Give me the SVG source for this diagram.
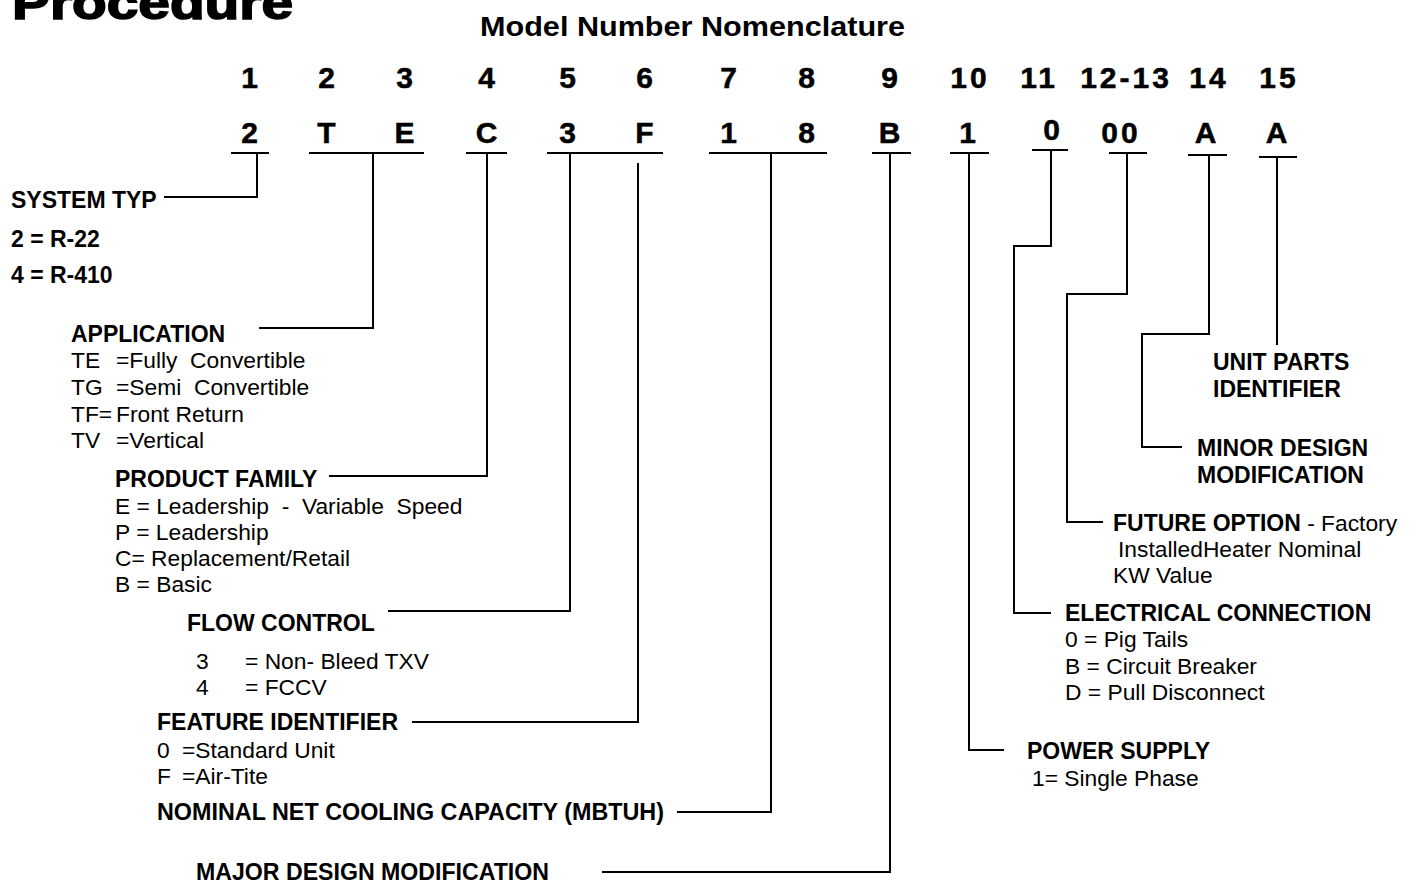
<svg xmlns="http://www.w3.org/2000/svg" width="1411" height="882" viewBox="0 0 1411 882">
<style>
text{font-family:"Liberation Sans",Arial,sans-serif;fill:#000}
.b{font-weight:bold;font-size:23px}
.r{font-size:22.8px}
.d{font-weight:bold;font-size:30px;text-anchor:middle;letter-spacing:3px;stroke:#000;stroke-width:0.5}
.ln{stroke:#000;stroke-width:2;fill:none}
</style>
<rect width="1411" height="882" fill="#fff"/>
<g id="title">
<text x="12" y="19" font-size="47" font-weight="bold" stroke="#000" stroke-width="1.6" textLength="281" lengthAdjust="spacingAndGlyphs">Procedure</text>
<text x="480" y="36" font-size="28" font-weight="bold" textLength="425" lengthAdjust="spacingAndGlyphs">Model Number Nomenclature</text>
</g>
<g id="positions">
<text class="d" x="251" y="88">1</text>
<text class="d" x="328" y="88">2</text>
<text class="d" x="406" y="88">3</text>
<text class="d" x="488" y="88">4</text>
<text class="d" x="569" y="88">5</text>
<text class="d" x="646" y="88">6</text>
<text class="d" x="730" y="88">7</text>
<text class="d" x="808" y="88">8</text>
<text class="d" x="891" y="88">9</text>
<text class="d" x="970" y="88">10</text>
<text class="d" x="1039" y="88">11</text>
<text class="d" x="1126" y="88">12-13</text>
<text class="d" x="1209" y="88">14</text>
<text class="d" x="1279" y="88">15</text>
</g>
<g id="code">
<text class="d" x="251" y="143">2</text>
<text class="d" x="328" y="143">T</text>
<text class="d" x="406" y="143">E</text>
<text class="d" x="488" y="143">C</text>
<text class="d" x="569" y="143">3</text>
<text class="d" x="646" y="143">F</text>
<text class="d" x="730" y="143">1</text>
<text class="d" x="808" y="143">8</text>
<text class="d" x="891" y="143">B</text>
<text class="d" x="969" y="143">1</text>
<text class="d" x="1053" y="140">0</text>
<text class="d" x="1121" y="143">00</text>
<text class="d" x="1207" y="143">A</text>
<text class="d" x="1278" y="143">A</text>
</g>
<g id="connectors" class="ln">
<path d="M231,153H269M309,153H424M466,153H507M547,153H663M709,153H827M872,153H911M950,153H989M1032,150H1068M1109,153H1147M1188,155H1227M1259,157H1297"/>
<path d="M257,153V197H164"/>
<path d="M373,153V328H259"/>
<path d="M487,153V476H329"/>
<path d="M570,153V611H388"/>
<path d="M638,163V722H412"/>
<path d="M771,153V812H677"/>
<path d="M890,153V872H602"/>
<path d="M969,153V750H1004"/>
<path d="M1051,150V246H1014V613H1051"/>
<path d="M1127,153V294H1067V522H1103"/>
<path d="M1209,155V334H1142V447H1182"/>
<path d="M1277,157V345"/>
</g>
<g id="system-type">
<text class="b" x="11" y="208">SYSTEM TYP</text>
<text class="b" x="11" y="247">2 = R-22</text>
<text class="b" x="11" y="283">4 = R-410</text>
</g>
<g id="application">
<text class="b" x="71" y="342">APPLICATION</text>
<text class="r" x="71" y="368">TE</text><text class="r" x="116" y="368" xml:space="preserve">=Fully  Convertible</text>
<text class="r" x="71" y="395">TG</text><text class="r" x="116" y="395" xml:space="preserve">=Semi  Convertible</text>
<text class="r" x="71" y="422">TF=</text><text class="r" x="116" y="422">Front Return</text>
<text class="r" x="71" y="448">TV</text><text class="r" x="116" y="448">=Vertical</text>
</g>
<g id="product-family">
<text class="b" x="115" y="487">PRODUCT FAMILY</text>
<text class="r" x="115" y="514" xml:space="preserve">E = Leadership  -  Variable  Speed</text>
<text class="r" x="115" y="540">P = Leadership</text>
<text class="r" x="115" y="566">C= Replacement/Retail</text>
<text class="r" x="115" y="592">B = Basic</text>
</g>
<g id="flow-control">
<text class="b" x="187" y="631">FLOW CONTROL</text>
<text class="r" x="196" y="669">3</text><text class="r" x="245" y="669">= Non- Bleed TXV</text>
<text class="r" x="196" y="695">4</text><text class="r" x="245" y="695">= FCCV</text>
</g>
<g id="feature-identifier">
<text class="b" x="157" y="730" textLength="241" lengthAdjust="spacingAndGlyphs">FEATURE IDENTIFIER</text>
<text class="r" x="157" y="758">0</text><text class="r" x="182" y="758">=Standard Unit</text>
<text class="r" x="157" y="784">F</text><text class="r" x="182" y="784">=Air-Tite</text>
</g>
<g id="capacity">
<text class="b" x="157" y="820" textLength="507" lengthAdjust="spacingAndGlyphs">NOMINAL NET COOLING CAPACITY (MBTUH)</text>
</g>
<g id="major-design">
<text class="b" x="196" y="880" textLength="353" lengthAdjust="spacingAndGlyphs">MAJOR DESIGN MODIFICATION</text>
</g>
<g id="unit-parts">
<text class="b" x="1213" y="370">UNIT PARTS</text>
<text class="b" x="1213" y="397">IDENTIFIER</text>
</g>
<g id="minor-design">
<text class="b" x="1197" y="456">MINOR DESIGN</text>
<text class="b" x="1197" y="483">MODIFICATION</text>
</g>
<g id="future-option">
<text x="1113" y="531"><tspan class="b">FUTURE OPTION</tspan><tspan class="r"> - Factory</tspan></text>
<text class="r" x="1118" y="557">InstalledHeater Nominal</text>
<text class="r" x="1113" y="583">KW Value</text>
</g>
<g id="electrical">
<text class="b" x="1065" y="621">ELECTRICAL CONNECTION</text>
<text class="r" x="1065" y="647">0 = Pig Tails</text>
<text class="r" x="1065" y="674">B = Circuit Breaker</text>
<text class="r" x="1065" y="700">D = Pull Disconnect</text>
</g>
<g id="power-supply">
<text class="b" x="1027" y="759">POWER SUPPLY</text>
<text class="r" x="1032" y="786">1= Single Phase</text>
</g>
</svg>
